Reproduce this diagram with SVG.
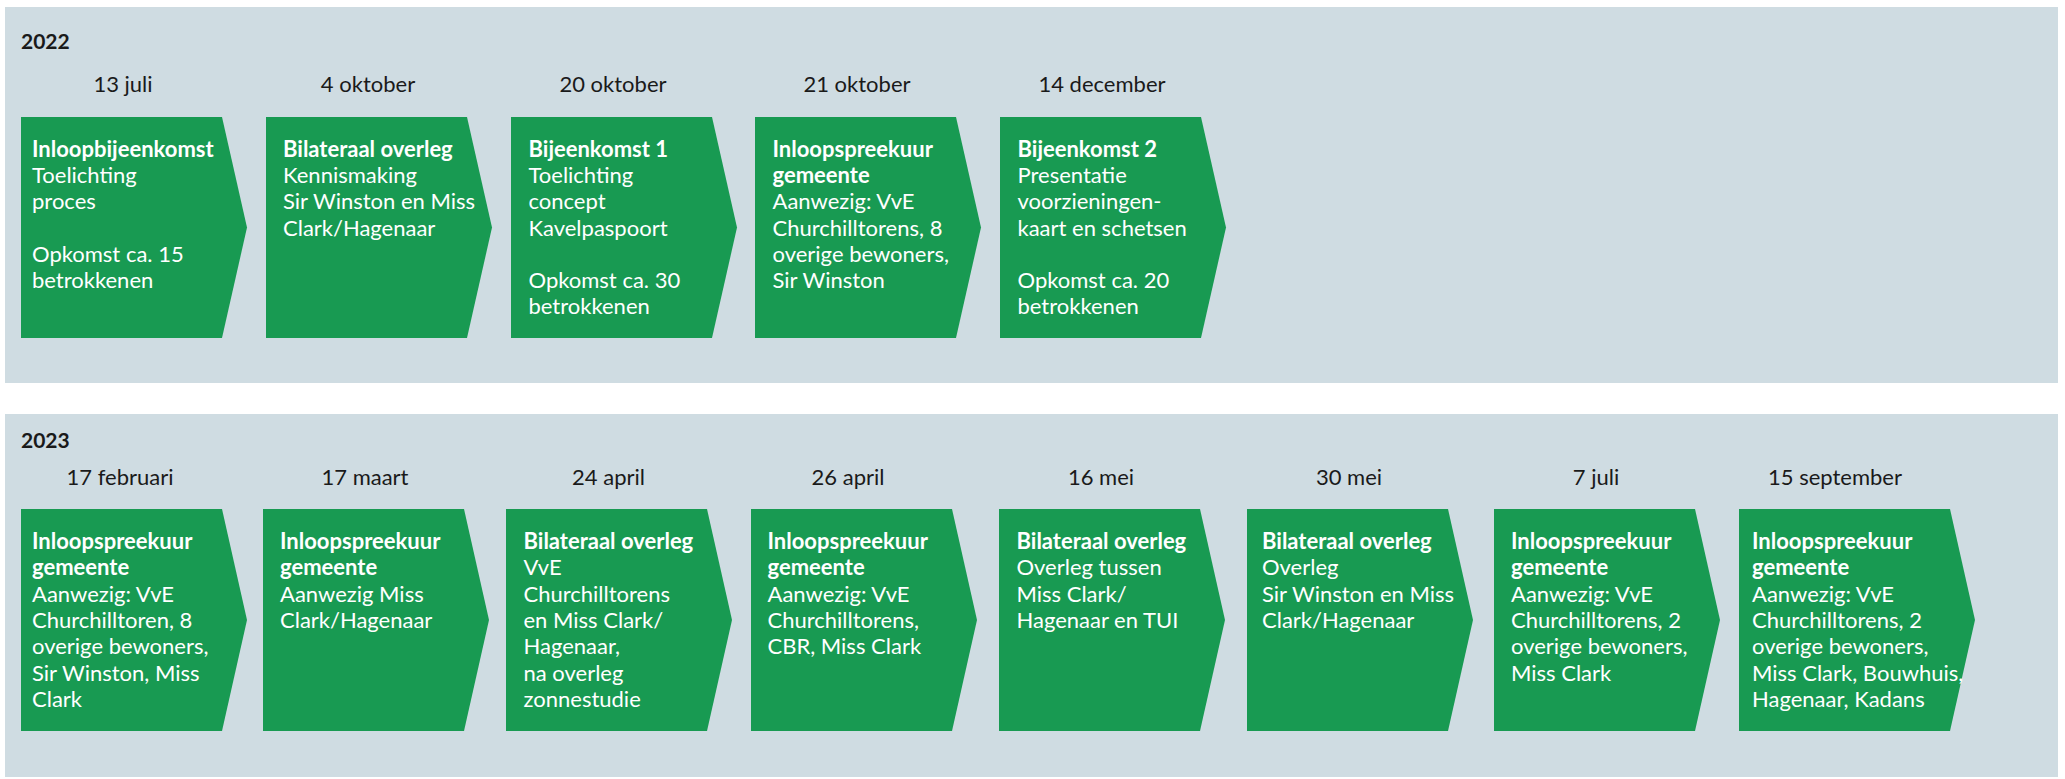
<svg xmlns="http://www.w3.org/2000/svg" width="2065" height="779" viewBox="0 0 2065 779">
<defs>
<style>
.panel{fill:#cfdce2}
.box{fill:#189a52}
.year{font-family:Lato,"Liberation Sans",sans-serif;font-weight:700;font-size:21px;fill:#1a1a1a}
.date{font-family:Lato,"Liberation Sans",sans-serif;font-size:22px;fill:#1a1a1a;text-anchor:middle}
.t{font-family:Lato,"Liberation Sans",sans-serif;font-size:22px;fill:#ffffff}
.b{font-weight:700}
</style>
<polygon id="chev1" points="0,0 201,0 226,110.5 201,221 0,221"/>
<polygon id="chev2" points="0,0 201,0 226,111 201,222 0,222"/>
</defs>
<rect class="panel" x="5" y="7" width="2053" height="376"/>
<rect class="panel" x="5" y="414" width="2053" height="363"/>
<text class="year" x="21" y="49">2022</text>
<text class="year" x="21" y="448">2023</text>
<g id="connectors"></g>

<g id="n2022-1" transform="translate(21,0)">
<text class="date" x="102" y="92">13 juli</text>
<use href="#chev1" class="box" y="117"/>
<text class="t" x="11" y="157"><tspan class="b">Inloopbijeenkomst</tspan><tspan x="11" dy="26.2">Toelichting</tspan><tspan x="11" dy="26.2">proces</tspan><tspan x="11" dy="52.4">Opkomst ca. 15</tspan><tspan x="11" dy="26.2">betrokkenen</tspan></text>
</g>
<g id="n2022-2" transform="translate(266,0)">
<text class="date" x="102" y="92">4 oktober</text>
<use href="#chev1" class="box" y="117"/>
<text class="t" x="17" y="157"><tspan class="b">Bilateraal overleg</tspan><tspan x="17" dy="26.2">Kennismaking</tspan><tspan x="17" dy="26.2">Sir Winston en Miss</tspan><tspan x="17" dy="26.2">Clark/Hagenaar</tspan></text>
</g>
<g id="n2022-3" transform="translate(511,0)">
<text class="date" x="102" y="92">20 oktober</text>
<use href="#chev1" class="box" y="117"/>
<text class="t" x="17.5" y="157"><tspan class="b">Bijeenkomst 1</tspan><tspan x="17.5" dy="26.2">Toelichting</tspan><tspan x="17.5" dy="26.2">concept</tspan><tspan x="17.5" dy="26.2">Kavelpaspoort</tspan><tspan x="17.5" dy="52.4">Opkomst ca. 30</tspan><tspan x="17.5" dy="26.2">betrokkenen</tspan></text>
</g>
<g id="n2022-4" transform="translate(755,0)">
<text class="date" x="102" y="92">21 oktober</text>
<use href="#chev1" class="box" y="117"/>
<text class="t" x="17.5" y="157"><tspan class="b">Inloopspreekuur</tspan><tspan x="17.5" dy="26.2" class="b">gemeente</tspan><tspan x="17.5" dy="26.2">Aanwezig: VvE</tspan><tspan x="17.5" dy="26.2">Churchilltorens, 8</tspan><tspan x="17.5" dy="26.2">overige bewoners,</tspan><tspan x="17.5" dy="26.2">Sir Winston</tspan></text>
</g>
<g id="n2022-5" transform="translate(1000,0)">
<text class="date" x="102" y="92">14 december</text>
<use href="#chev1" class="box" y="117"/>
<text class="t" x="17.5" y="157"><tspan class="b">Bijeenkomst 2</tspan><tspan x="17.5" dy="26.2">Presentatie</tspan><tspan x="17.5" dy="26.2">voorzieningen-</tspan><tspan x="17.5" dy="26.2">kaart en schetsen</tspan><tspan x="17.5" dy="52.4">Opkomst ca. 20</tspan><tspan x="17.5" dy="26.2">betrokkenen</tspan></text>
</g>

<g id="n2023-1" transform="translate(21,0)">
<text class="date" x="99" y="485">17 februari</text>
<use href="#chev2" class="box" y="509"/>
<text class="t" x="11" y="549"><tspan class="b">Inloopspreekuur</tspan><tspan x="11" dy="26.3" class="b">gemeente</tspan><tspan x="11" dy="26.3">Aanwezig: VvE</tspan><tspan x="11" dy="26.3">Churchilltoren, 8</tspan><tspan x="11" dy="26.3">overige bewoners,</tspan><tspan x="11" dy="26.3">Sir Winston, Miss</tspan><tspan x="11" dy="26.3">Clark</tspan></text>
</g>
<g id="n2023-2" transform="translate(263,0)">
<text class="date" x="102" y="485">17 maart</text>
<use href="#chev2" class="box" y="509"/>
<text class="t" x="17" y="549"><tspan class="b">Inloopspreekuur</tspan><tspan x="17" dy="26.3" class="b">gemeente</tspan><tspan x="17" dy="26.3">Aanwezig Miss</tspan><tspan x="17" dy="26.3">Clark/Hagenaar</tspan></text>
</g>
<g id="n2023-3" transform="translate(506,0)">
<text class="date" x="102.5" y="485">24 april</text>
<use href="#chev2" class="box" y="509"/>
<text class="t" x="17.5" y="549"><tspan class="b">Bilateraal overleg</tspan><tspan x="17.5" dy="26.3">VvE</tspan><tspan x="17.5" dy="26.3">Churchilltorens</tspan><tspan x="17.5" dy="26.3">en Miss Clark/</tspan><tspan x="17.5" dy="26.3">Hagenaar,</tspan><tspan x="17.5" dy="26.3">na overleg</tspan><tspan x="17.5" dy="26.3">zonnestudie</tspan></text>
</g>
<g id="n2023-4" transform="translate(751,0)">
<text class="date" x="97" y="485">26 april</text>
<use href="#chev2" class="box" y="509"/>
<text class="t" x="16.5" y="549"><tspan class="b">Inloopspreekuur</tspan><tspan x="16.5" dy="26.3" class="b">gemeente</tspan><tspan x="16.5" dy="26.3">Aanwezig: VvE</tspan><tspan x="16.5" dy="26.3">Churchilltorens,</tspan><tspan x="16.5" dy="26.3">CBR, Miss Clark</tspan></text>
</g>
<g id="n2023-5" transform="translate(999,0)">
<text class="date" x="102" y="485">16 mei</text>
<use href="#chev2" class="box" y="509"/>
<text class="t" x="17.5" y="549"><tspan class="b">Bilateraal overleg</tspan><tspan x="17.5" dy="26.3">Overleg tussen</tspan><tspan x="17.5" dy="26.3">Miss Clark/</tspan><tspan x="17.5" dy="26.3">Hagenaar en TUI</tspan></text>
</g>
<g id="n2023-6" transform="translate(1247,0)">
<text class="date" x="102" y="485">30 mei</text>
<use href="#chev2" class="box" y="509"/>
<text class="t" x="15" y="549"><tspan class="b">Bilateraal overleg</tspan><tspan x="15" dy="26.3">Overleg</tspan><tspan x="15" dy="26.3">Sir Winston en Miss</tspan><tspan x="15" dy="26.3">Clark/Hagenaar</tspan></text>
</g>
<g id="n2023-7" transform="translate(1494,0)">
<text class="date" x="102" y="485">7 juli</text>
<use href="#chev2" class="box" y="509"/>
<text class="t" x="17" y="549"><tspan class="b">Inloopspreekuur</tspan><tspan x="17" dy="26.3" class="b">gemeente</tspan><tspan x="17" dy="26.3">Aanwezig: VvE</tspan><tspan x="17" dy="26.3">Churchilltorens, 2</tspan><tspan x="17" dy="26.3">overige bewoners,</tspan><tspan x="17" dy="26.3">Miss Clark</tspan></text>
</g>
<g id="n2023-8" transform="translate(1739,0)">
<text class="date" x="96" y="485">15 september</text>
<polygon class="box" points="0,509 211,509 236,620 211,731 0,731"/>
<text class="t" x="13" y="549"><tspan class="b">Inloopspreekuur</tspan><tspan x="13" dy="26.3" class="b">gemeente</tspan><tspan x="13" dy="26.3">Aanwezig: VvE</tspan><tspan x="13" dy="26.3">Churchilltorens, 2</tspan><tspan x="13" dy="26.3">overige bewoners,</tspan><tspan x="13" dy="26.3">Miss Clark, Bouwhuis,</tspan><tspan x="13" dy="26.3">Hagenaar, Kadans</tspan></text>
</g>
</svg>
